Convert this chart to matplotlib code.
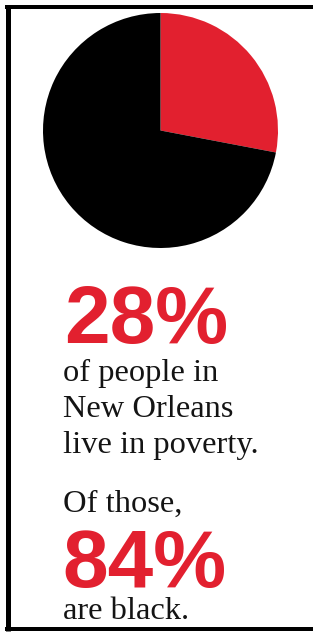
import matplotlib
matplotlib.use("Agg")
import matplotlib.pyplot as plt
from matplotlib.lines import Line2D

# ---- data ----
slice_labels = ["In poverty", "Not in poverty"]
slice_values = [28, 72]
slice_colors = ["#E2202F", "#000000"]

poverty_pct = 28
black_pct = 84
text_block1 = ["of people in", "New Orleans", "live in poverty."]
text_lead2 = "Of those,"
text_tail2 = "are black."

RED = "#E2202F"
INK = "#141414"

W, H = 313, 633
fig = plt.figure(figsize=(W / 100, H / 100), dpi=100)
fig.patch.set_facecolor("white")

# overlay axes in pixel coordinates (y down)
ax = fig.add_axes([0, 0, 1, 1])
ax.set_xlim(0, W)
ax.set_ylim(H, 0)
ax.axis("off")

# pie
cx, cy, r = 160.5, 130.5, 117.5
pax = fig.add_axes([(cx - r) / W, (H - cy - r) / H, 2 * r / W, 2 * r / H])
pax.pie(slice_values, colors=slice_colors, startangle=90, counterclock=False,
        radius=1.0, wedgeprops=dict(linewidth=0))
pax.set_xlim(-1, 1)
pax.set_ylim(-1, 1)
pax.set_aspect("equal")
pax.axis("off")

px2pt = 0.72
big_fs = 82 * px2pt
ser_fs = 32.5 * px2pt
sans = ["Liberation Sans", "DejaVu Sans"]
serif = ["Liberation Serif", "DejaVu Serif"]

ax.text(64, 342.5, f"{poverty_pct}%", color=RED, fontsize=big_fs,
        fontweight="bold", family=sans, va="baseline", ha="left")
for i, line in enumerate(text_block1):
    ax.text(63, 381 + i * 36, line, color=INK, fontsize=ser_fs,
            family=serif, va="baseline", ha="left")
ax.text(63, 512, text_lead2, color=INK, fontsize=ser_fs,
        family=serif, va="baseline", ha="left")
ax.text(62, 587, f"{black_pct}%", color=RED, fontsize=big_fs,
        fontweight="bold", family=sans, va="baseline", ha="left")
ax.text(63, 619, text_tail2, color=INK, fontsize=ser_fs,
        family=serif, va="baseline", ha="left")

# frame (top, left, bottom)
lw = 4 * px2pt
ax.add_line(Line2D([5, W], [7, 7], color="black", lw=lw, solid_capstyle="butt"))
ax.add_line(Line2D([7.5, 7.5], [5, 631], color="black", lw=5 * px2pt, solid_capstyle="butt"))
ax.add_line(Line2D([5, W], [629, 629], color="black", lw=lw, solid_capstyle="butt"))

fig.savefig("out.png", dpi=100, facecolor="white")
